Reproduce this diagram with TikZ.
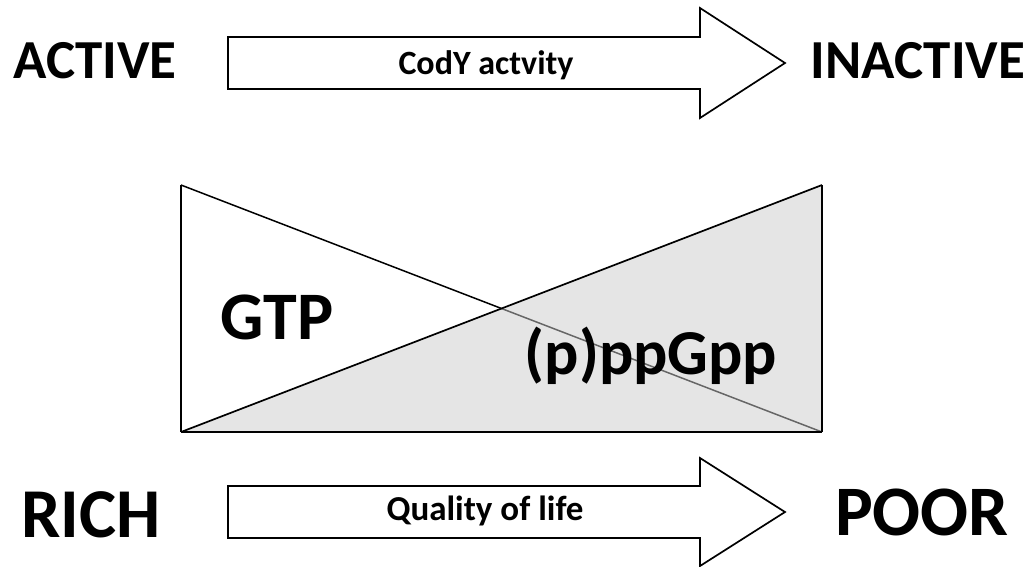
\documentclass[tikz,border=0pt]{standalone}
\usepackage{fontspec}
\setmainfont{Carlito}
\begin{document}
\begin{tikzpicture}[x=1pt,y=-1pt,line join=miter,
  word/.style={font=\bfseries\fontsize{#1}{#1}\selectfont,inner sep=0pt,anchor=base},
  arrowshape/.style={draw=black,line width=1.7pt,fill=white},
  boxline/.style={draw=black,line width=1.7pt},
  shade/.style={fill=gray!40,fill opacity=0.5}]
\useasboundingbox (0,0) rectangle (1033,566);
% labels
\node[word=55] (active) at (95,78) {ACTIVE};
\node[word=55] (inactive) at (918,78) {INACTIVE};
\node[word=70] (rich) at (91,537) {RICH};
\node[word=71] (poor) at (922,535) {POOR};
% top arrow
\draw[arrowshape] (228,37) -- (700,37) -- (700,8) -- (785,63) -- (700,118) -- (700,89) -- (228,89) -- cycle;
\node[word=34] (cody) at (486,74) {CodY actvity};
% bottom arrow
\draw[arrowshape] (228,486) -- (700,486) -- (700,458) -- (785,512) -- (700,566) -- (700,538) -- (228,538) -- cycle;
\node[word=35] (qual) at (485,520) {Quality of life};
% box
\coordinate (tl) at (181,185);
\coordinate (tr) at (822,185);
\coordinate (bl) at (181,432);
\coordinate (br) at (822,432);
\draw[line width=1.5pt] (tl) -- (br);
\fill[shade] (bl) -- (tr) -- (br) -- cycle;
\draw[boxline] (tl) -- (bl);
\draw[boxline] (tr) -- (br);
\draw[boxline] (bl) -- (tr);
\draw[draw=black,line width=2.6pt] (bl) -- (br);
\node[word=68] (gtp) at (277,339) {GTP};
\node[word=64] (ppgpp) at (651,374) {(p)ppGpp};
\end{tikzpicture}
\end{document}
